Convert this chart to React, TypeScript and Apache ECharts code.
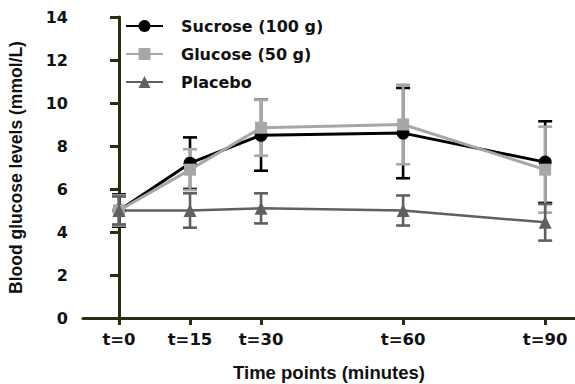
import React, { useEffect, useRef } from "react";
import * as echarts from "echarts";

const times = [0, 15, 30, 60, 90];
const tickLabels = ["t=0", "t=15", "t=30", "t=60", "t=90"];

const sucroseMean = [5.0, 7.2, 8.5, 8.6, 7.25];
const sucroseErr = [0.75, 1.2, 1.65, 2.1, 1.9];
const glucoseMean = [5.0, 6.9, 8.85, 9.0, 6.9];
const glucoseErr = [0.7, 0.95, 1.3, 1.85, 2.0];
const placeboMean = [5.0, 5.0, 5.1, 5.0, 4.45];
const placeboErr = [0.65, 0.8, 0.7, 0.7, 0.85];

const seriesDefs = [
  { name: "Sucrose (100 g)", mean: sucroseMean, err: sucroseErr, color: "#000000", symbol: "circle", size: 13, lw: 3 },
  { name: "Glucose (50 g)", mean: glucoseMean, err: glucoseErr, color: "#a7a7aa", symbol: "rect", size: 12, lw: 3 },
  { name: "Placebo", mean: placeboMean, err: placeboErr, color: "#5e615c", symbol: "triangle", size: 13, lw: 2.5 },
];

const axisColor = "#2c2c12";
const titleFont = "'Liberation Sans', Arial, sans-serif";
const tickFont = "'DejaVu Sans', Verdana, sans-serif";

export default function App() {
  const ref = useRef<HTMLDivElement>(null);
  useEffect(() => {
    const chart = echarts.init(ref.current!, null, { renderer: "svg" });
    const series: any[] = [];
    seriesDefs.forEach((s) => {
      series.push({
        type: "custom",
        name: s.name + " err",
        data: times.map((t, i) => [t, s.mean[i] - s.err[i], s.mean[i] + s.err[i]]),
        encode: { x: 0, y: [1, 2] },
        silent: true,
        renderItem: (params: any, api: any) => {
          const x = api.value(0);
          const pLo = api.coord([x, api.value(1)]);
          const pHi = api.coord([x, api.value(2)]);
          const hw = 7;
          const st = { stroke: s.color, lineWidth: 2.6 };
          return {
            type: "group",
            children: [
              { type: "line", shape: { x1: pLo[0], y1: pLo[1], x2: pHi[0], y2: pHi[1] }, style: st },
              { type: "line", shape: { x1: pHi[0] - hw, y1: pHi[1], x2: pHi[0] + hw, y2: pHi[1] }, style: st },
              { type: "line", shape: { x1: pLo[0] - hw, y1: pLo[1], x2: pLo[0] + hw, y2: pLo[1] }, style: st },
            ],
          };
        },
      });
      series.push({
        type: "line",
        name: s.name,
        data: times.map((t, i) => [t, s.mean[i]]),
        symbol: s.symbol,
        symbolSize: s.size,
        showAllSymbol: true,
        itemStyle: { color: s.color },
        lineStyle: { color: s.color, width: s.lw },
      });
    });

    chart.setOption({
      animation: false,
      grid: { left: 83, right: 0, top: 17, bottom: 66, outerBoundsMode: "none", containLabel: false },
      legend: {
        data: seriesDefs.map((s) => s.name),
        orient: "vertical",
        left: 125,
        top: 18,
        padding: 0,
        itemWidth: 37,
        itemHeight: 15,
        itemGap: 12,
        textStyle: {
          fontFamily: tickFont,
          fontWeight: "bold",
          fontSize: 16,
          color: "#111",
          padding: [0, 0, 0, 13],
          lineHeight: 15,
        },
      },
      xAxis: {
        type: "value",
        min: -7.6,
        max: 96.3,
        splitLine: { show: false },
        axisLine: { lineStyle: { color: axisColor, width: 3 } },
        axisTick: { customValues: times, length: 7, lineStyle: { color: axisColor, width: 3 } },
        axisLabel: {
          customValues: times,
          formatter: (v: number) => tickLabels[times.indexOf(v)] ?? "",
          fontFamily: tickFont,
          fontWeight: "bold",
          fontSize: 16.5,
          color: "#111",
          margin: 13,
        },
        name: "Time points (minutes)",
        nameLocation: "middle",
        nameGap: 45,
        nameTextStyle: { fontFamily: titleFont, fontWeight: "bold", fontSize: 18.5, color: "#111" },
      },
      yAxis: {
        type: "value",
        min: 0,
        max: 14,
        interval: 2,
        splitLine: { show: false },
        axisLine: { show: true, lineStyle: { color: axisColor, width: 3 } },
        axisTick: { show: true, length: 9, lineStyle: { color: axisColor, width: 3 } },
        axisLabel: {
          fontFamily: tickFont,
          fontWeight: "bold",
          fontSize: 16,
          color: "#111",
          margin: 15,
        },
        name: "Blood glucose levels (mmol/L)",
        nameLocation: "middle",
        nameGap: 58,
        nameTextStyle: { fontFamily: titleFont, fontWeight: "bold", fontSize: 17.5, color: "#111" },
      },
      series,
    });
    return () => chart.dispose();
  }, []);
  return <div ref={ref} style={{ width: 575, height: 384, position: "absolute", left: 0, top: 0 }} />;
}
